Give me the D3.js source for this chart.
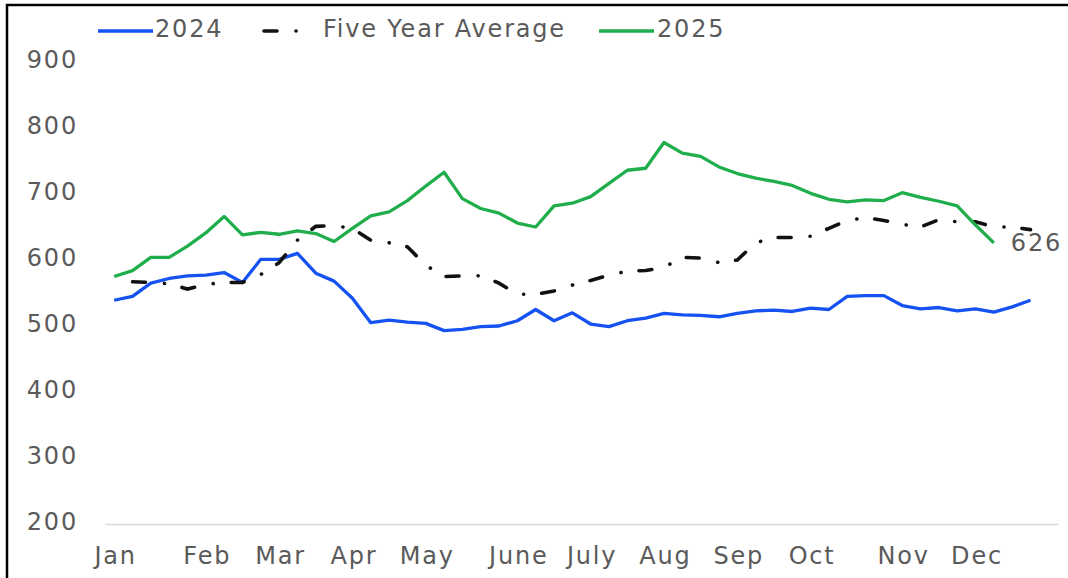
<!DOCTYPE html>
<html>
<head>
<meta charset="utf-8">
<script src="https://cdn.jsdelivr.net/npm/d3@7"></script>
<style>
  html, body { margin: 0; padding: 0; background: #fff; }
  svg text { font-family: "DejaVu Sans", sans-serif; fill: #5a5a5a; letter-spacing: 1.8px; }
</style>
</head>
<body>
<div class="chart"></div>
<script>
const svgSize = { width: 1068, height: 578 };

// weekly values, index 0 = first week of Jan
const weeks = d3.range(52);
const s2024 = [539, 545, 565, 572, 576, 577, 581, 566, 601, 601,
               610, 580, 568, 542, 505, 509, 506, 504, 493, 495,
               499, 500, 508, 525, 508, 520, 503, 499, 508, 512,
               519, 517, 516, 514, 519, 523, 524, 522, 527, 525,
               545, 546, 546, 531, 526, 528, 523, 526, 521, 529,
               539];
// five year average starts in week 2
const avgStart = 1;
const sAvg  = [567, 566, 564, 556, 563, 566, 566, 578, 596,
               630, 651, 652, 648, 630, 626, 620, 592, 575, 576,
               576, 565, 548, 548, 553, 562, 569, 577, 583, 584,
               589, 604, 603, 596, 600, 626, 634, 634, 636, 648,
               660, 664, 660, 654, 650, 661, 658, 658, 650, 650,
               646];
const s2025 = [575, 584, 604, 604, 621, 641, 666, 638, 642, 639,
               644, 640, 628, 648, 667, 673, 690, 712, 733, 693,
               678, 671, 656, 650, 682, 686, 696, 716, 736, 739,
               778, 762, 757, 741, 731, 724, 719, 713, 701, 692,
               688, 691, 690, 702, 695, 689, 682, 653, 626];

const monthLabels = ['Jan', 'Feb', 'Mar', 'Apr', 'May', 'June', 'July', 'Aug', 'Sep', 'Oct', 'Nov', 'Dec'];
const monthWeeks  = [0, 5, 9, 13, 17, 22, 26, 30, 34, 38, 43, 47];
const yTicks = [200, 300, 400, 500, 600, 700, 800, 900];

const legendNames = ['2024', 'Five Year Average', '2025'];

const colors = { s2024: '#1652f2', avg: '#111', s2025: '#1fae4b' };
const avgDash = '13,19,0.1,18';
const fontSize = '24px';

const svg = d3.select('.chart')
    .append('svg')
    .attr('width', svgSize.width)
    .attr('height', svgSize.height)
;

// frame of the screenshot (only left + top visible)
svg.append('rect')
    .attr('x', 7).attr('y', 5)
    .attr('width', 1100).attr('height', 600)
    .attr('fill', 'none')
    .attr('stroke', '#000')
    .attr('stroke-width', 2.5)
;

const x = d3.scalePoint()
    .domain(weeks)
    .range([105, 1058])
    .padding(0.5)
;
const y = d3.scaleLinear()
    .domain([200, 900])
    .range([524, 62])
;

// x axis, domain line doubles as the 200 gridline
const xAxis = d3.axisBottom(x)
    .tickValues(monthWeeks)
    .tickFormat(w => monthLabels[monthWeeks.indexOf(w)])
    .tickSize(0)
    .tickSizeOuter(0)
    .tickPadding(23)
;
const xg = svg.append('g')
    .attr('transform', `translate(0, ${y(200)})`)
    .call(xAxis)
;
xg.select('.domain').attr('stroke', '#d9d9d9').attr('stroke-width', 1.5);
xg.selectAll('text').style('font-size', fontSize).attr('dx', '1px');

const yAxis = d3.axisLeft(y)
    .tickValues(yTicks)
    .tickSize(0)
    .tickPadding(27)
;
const yg = svg.append('g')
    .attr('transform', 'translate(105, 0)')
    .call(yAxis)
;
yg.select('.domain').remove();
yg.selectAll('text').style('font-size', fontSize).attr('dy', '0.22em');

const line = d3.line()
    .x(d => x(d.i))
    .y(d => y(d.v))
;

const toPts = (vals, start) => vals.map((v, k) => ({ i: start + k, v }));

svg.append('path')
    .datum(toPts(s2024, 0))
    .attr('d', line)
    .attr('fill', 'none')
    .attr('stroke', colors.s2024)
    .attr('stroke-width', 3.3)
    .attr('stroke-linejoin', 'round')
;
svg.append('path')
    .datum(toPts(sAvg, avgStart))
    .attr('d', line)
    .attr('fill', 'none')
    .attr('stroke', colors.avg)
    .attr('stroke-width', 3.6)
    .attr('stroke-linecap', 'round')
    .attr('stroke-dasharray', avgDash)
;
const p2025 = toPts(s2025, 0);
svg.append('path')
    .datum(p2025)
    .attr('d', line)
    .attr('fill', 'none')
    .attr('stroke', colors.s2025)
    .attr('stroke-width', 3.3)
    .attr('stroke-linejoin', 'round')
;

// data label for last 2025 point
const last = p2025[p2025.length - 1];
svg.append('text')
    .attr('x', x(last.i) + 17)
    .attr('y', y(last.v))
    .attr('dy', '0.36em')
    .style('font-size', fontSize)
    .text(last.v)
;

// legend
const legend = [
    { name: legendNames[0], color: colors.s2024, dash: null, x0: 98, x1: 153, tx: 155 },
    { name: legendNames[1], color: colors.avg, dash: avgDash, x0: 264, x1: 302, tx: 323 },
    { name: legendNames[2], color: colors.s2025, dash: null, x0: 599, x1: 654, tx: 657 },
];
const lg = svg.append('g').selectAll('g').data(legend).enter().append('g');
lg.append('line')
    .attr('x1', d => d.x0).attr('x2', d => d.x1)
    .attr('y1', 31).attr('y2', 31)
    .attr('stroke', d => d.color)
    .attr('stroke-width', d => d.dash ? 3.6 : 3.3)
    .attr('stroke-linecap', d => d.dash ? 'round' : 'butt')
    .attr('stroke-dasharray', d => d.dash)
;
lg.append('text')
    .attr('x', d => d.tx)
    .attr('y', 37)
    .style('font-size', fontSize)
    .text(d => d.name)
;
</script>
</body>
</html>
